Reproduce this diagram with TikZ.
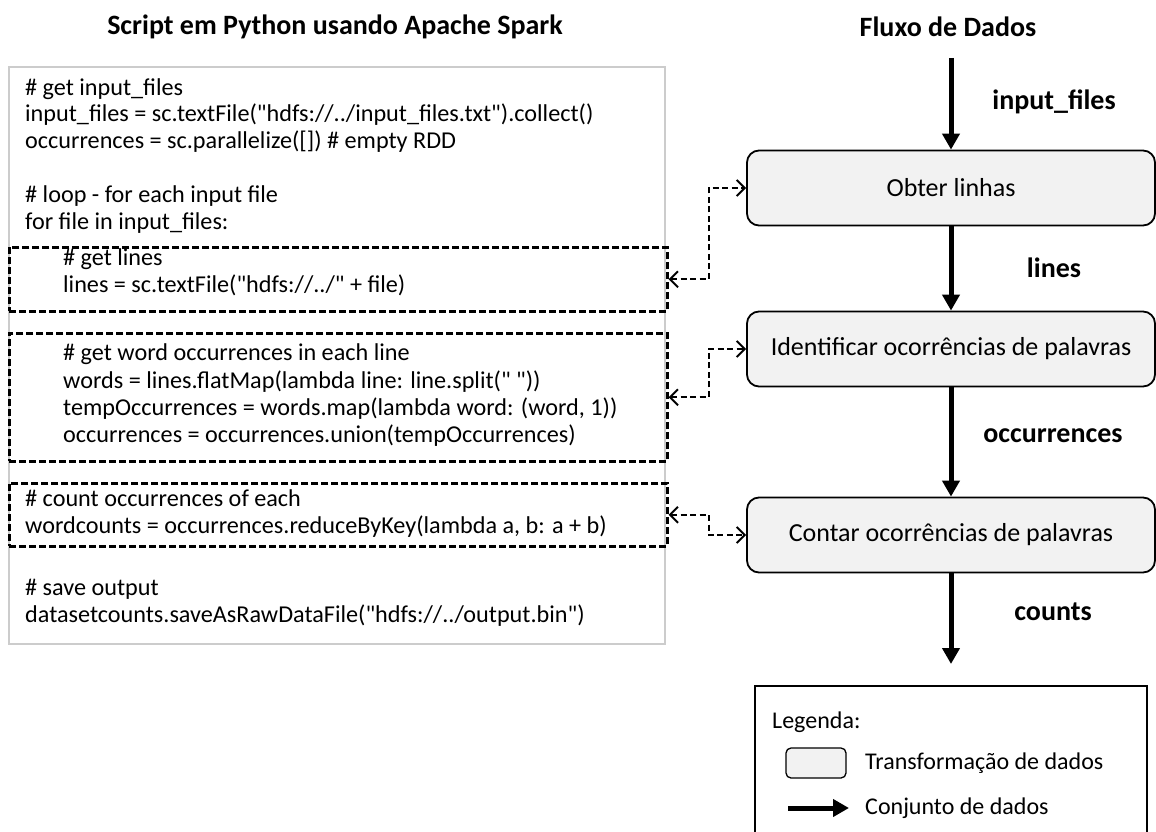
\documentclass[tikz,border=0pt]{standalone}
\usepackage{fontspec}
\setmainfont{Carlito}[Ligatures=TeXOff]
\usetikzlibrary{arrows.meta,calc}
\definecolor{boxgray}{HTML}{F2F2F2}
\definecolor{framegray}{HTML}{CCCCCC}
\newcommand{\dq}{\char"22\relax}
\begin{document}
\begin{tikzpicture}[x=1pt,y=-1pt,
  codetxt/.style={anchor=base west,inner sep=0pt,font=\fontsize{24.2}{28}\selectfont},
  title/.style={inner sep=0pt,font=\fontsize{28}{32}\selectfont\bfseries},
  flowlabel/.style={inner sep=0pt,font=\fontsize{28}{32}\selectfont\bfseries},
  flowbox/.style={draw,line width=1.8pt,fill=boxgray,rounded corners=12pt,minimum width=408pt,minimum height=75pt,font=\fontsize{26}{30}\selectfont},
  codeframe/.style={draw=framegray,line width=1.8pt,fill=white},
  dbox/.style={draw,line width=2.6pt,dash pattern=on 7pt off 3pt},
  dconn/.style={line width=2pt,dash pattern=on 6pt off 3.5pt,{Straight Barb[length=8pt,width=16pt,line width=2pt]}-{Straight Barb[length=8pt,width=16pt,line width=2pt]}},
  flowarrow/.style={line width=5pt,-{Triangle[width=17pt,length=16pt]}},
  legtxt/.style={anchor=west,inner sep=0pt,font=\fontsize{24}{28}\selectfont}
]
\useasboundingbox (0,0) rectangle (1156,832);
\fill[white] (0,0) rectangle (1156,832);

% titles
\node[title] (t1) at (335,27) {Script em Python usando Apache Spark};
\node[title] (t2) at (948,27) {Fluxo de Dados};

% code frame
\node[codeframe,anchor=north west,minimum width=656pt,minimum height=577pt,inner sep=0pt] (frame) at (8,66) {};

% dashed boxes
\node[dbox,anchor=north west,minimum width=658pt,minimum height=64pt,inner sep=0pt] (db1) at (8,246) {};
\node[dbox,anchor=north west,minimum width=658pt,minimum height=128pt,inner sep=0pt] (db2) at (8,332) {};
\node[dbox,anchor=north west,minimum width=658pt,minimum height=63pt,inner sep=0pt] (db3) at (8,482) {};

% code lines
\node[codetxt] (c1) at (25,96) {\# get input\_files};
\node[codetxt] (c2) at (25,122) {input\_files = sc.textFile(\dq hdfs://../input\_files.txt\dq).collect()};
\node[codetxt] (c3) at (25,149) {occurrences = sc.parallelize([]) \# empty RDD};
\node[codetxt] (c4) at (25,202) {\# loop - for each input file};
\node[codetxt] (c5) at (25,229) {for file in input\_files:};
\node[codetxt] (c6) at (63,265) {\# get lines};
\node[codetxt] (c7) at (63,292) {lines = sc.textFile(\dq hdfs://../\dq{} + file)};
\node[codetxt] (c8) at (63,360) {\# get word occurrences in each line};
\node[codetxt] (c9) at (63,388) {words = lines.flatMap(lambda line: line.split(\dq{} \dq))};
\node[codetxt] (c10) at (63,415) {tempOccurrences = words.map(lambda word: (word, 1))};
\node[codetxt] (c11) at (63,442) {occurrences = occurrences.union(tempOccurrences)};
\node[codetxt] (c12) at (25,506) {\# count occurrences of each};
\node[codetxt] (c13) at (25,533) {wordcounts = occurrences.reduceByKey(lambda a, b: a + b)};
\node[codetxt] (c14) at (25,595) {\# save output};
\node[codetxt] (c15) at (25,622) {datasetcounts.saveAsRawDataFile(\dq hdfs://../output.bin\dq)};

% flow boxes
\node[flowbox] (b1) at (951,188) {Obter linhas};
\node[flowbox] (b2) at (951,349) {Identificar ocorrências de palavras};
\node[flowbox] (b3) at (951,535) {Contar ocorrências de palavras};

\coordinate (top) at (951,58);
\coordinate (bottom) at (951,664);

% flow arrows
\draw[flowarrow] (top) -- (b1.north);
\draw[flowarrow] (b1.south) -- (b2.north);
\draw[flowarrow] (b2.south) -- (b3.north);
\draw[flowarrow] (b3.south) -- (bottom);

% flow labels
\node[flowlabel] (l1) at (1054,102) {input\_files};
\node[flowlabel] (l2) at (1054,268) {lines};
\node[flowlabel] (l3) at (1053,436) {occurrences};
\node[flowlabel] (l4) at (1053,612) {counts};

% dashed connectors
\draw[dconn] (db1.east) -- ++(40,0) |- (b1.west);
\draw[dconn] (db2.east) -- ++(40,0) |- (b2.west);
\draw[dconn] (db3.east) -- ++(40,0) |- (b3.west);

% legend
\node[draw,line width=1.8pt,anchor=north west,minimum width=392pt,minimum height=160pt,inner sep=0pt] (leg) at (754,685) {};
\node[legtxt] (legt) at (772,722) {Legenda:};
\node[draw,line width=1.3pt,fill=boxgray,rounded corners=5pt,minimum width=60pt,minimum height=30pt,inner sep=0pt] (legbox) at (816,763) {};
\node[legtxt] (legbt) at (865,763) {Transformação de dados};
\coordinate (la1) at (788,808);
\coordinate (la2) at (849,808);
\draw[line width=5pt,-{Triangle[width=17pt,length=16pt]}] (la1) -- (la2);
\node[legtxt] (legat) at (865,808) {Conjunto de dados};
\end{tikzpicture}
\end{document}
